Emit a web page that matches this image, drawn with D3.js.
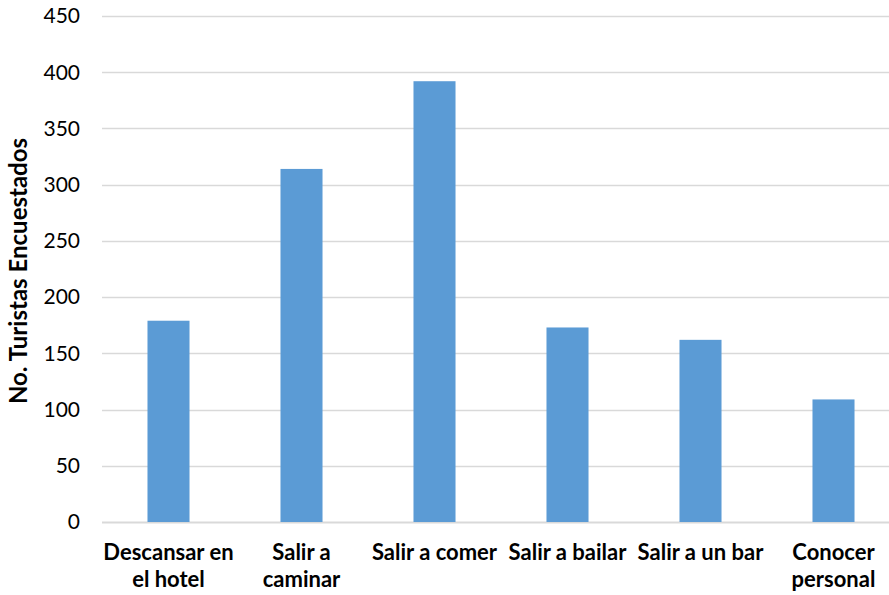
<!DOCTYPE html>
<html>
<head>
<meta charset="utf-8">
<script src="https://cdn.jsdelivr.net/npm/d3@7"></script>
<style>
  body { margin: 0; background: #fff; }
  text { font-family: Lato, "Open Sans", sans-serif; fill: #000; }
</style>
</head>
<body>
<svg id="chart"></svg>
<script>
const categories = [
  ["Descansar en", "el hotel"],
  ["Salir a", "caminar"],
  ["Salir a comer"],
  ["Salir a bailar"],
  ["Salir a un bar"],
  ["Conocer", "personal"]
];
const values = [179, 314, 392, 173, 162, 109];
const yTicks = [0, 50, 100, 150, 200, 250, 300, 350, 400, 450];

const width = 889, height = 595;
const margin = { top: 16, right: -11, bottom: 73, left: 102 };

const svg = d3.select("#chart")
  .attr("width", width)
  .attr("height", height);

const keys = categories.map(d => d.join(" "));

const x = d3.scaleBand()
  .domain(keys)
  .range([margin.left, width - margin.right])
  .paddingInner(0.684)
  .paddingOuter(0.342);

const y = d3.scaleLinear()
  .domain([0, 450])
  .range([height - margin.bottom, margin.top]);

// gridlines
svg.append("g")
  .selectAll("line")
  .data(yTicks)
  .enter().append("line")
  .attr("x1", margin.left)
  .attr("x2", width)
  .attr("y1", d => Math.round(y(d)) + 0.5)
  .attr("y2", d => Math.round(y(d)) + 0.5)
  .attr("stroke", "#d9d9d9")
  .attr("stroke-width", d => d === 0 ? 2 : 1.3);

// y tick labels
svg.append("g")
  .selectAll("text")
  .data(yTicks)
  .enter().append("text")
  .attr("x", 80)
  .attr("y", d => y(d))
  .attr("dy", "0.35em")
  .attr("text-anchor", "end")
  .style("font-size", "21px")
  .text(d => d);

// bars
svg.append("g")
  .selectAll("rect")
  .data(values)
  .enter().append("rect")
  .attr("x", (d, i) => x(keys[i]))
  .attr("y", d => y(d))
  .attr("width", x.bandwidth())
  .attr("height", d => y(0) - y(d))
  .attr("fill", "#5b9bd5");

// category labels
const labels = svg.append("g")
  .selectAll("text")
  .data(categories)
  .enter().append("text")
  .attr("x", (d, i) => x(keys[i]) + x.bandwidth() / 2)
  .attr("y", 560)
  .attr("text-anchor", "middle")
  .style("font-size", "22px")
  .style("font-weight", "bold");

labels.selectAll("tspan")
  .data(d => d)
  .enter().append("tspan")
  .attr("x", function() { return d3.select(this.parentNode).attr("x"); })
  .attr("dy", (d, i) => i === 0 ? 0 : 27)
  .text(d => d);

// y axis title
svg.append("text")
  .attr("transform", "translate(27, 271) rotate(-90)")
  .attr("text-anchor", "middle")
  .style("font-size", "24px")
  .style("font-weight", "bold")
  .text("No. Turistas Encuestados");
</script>
</body>
</html>
